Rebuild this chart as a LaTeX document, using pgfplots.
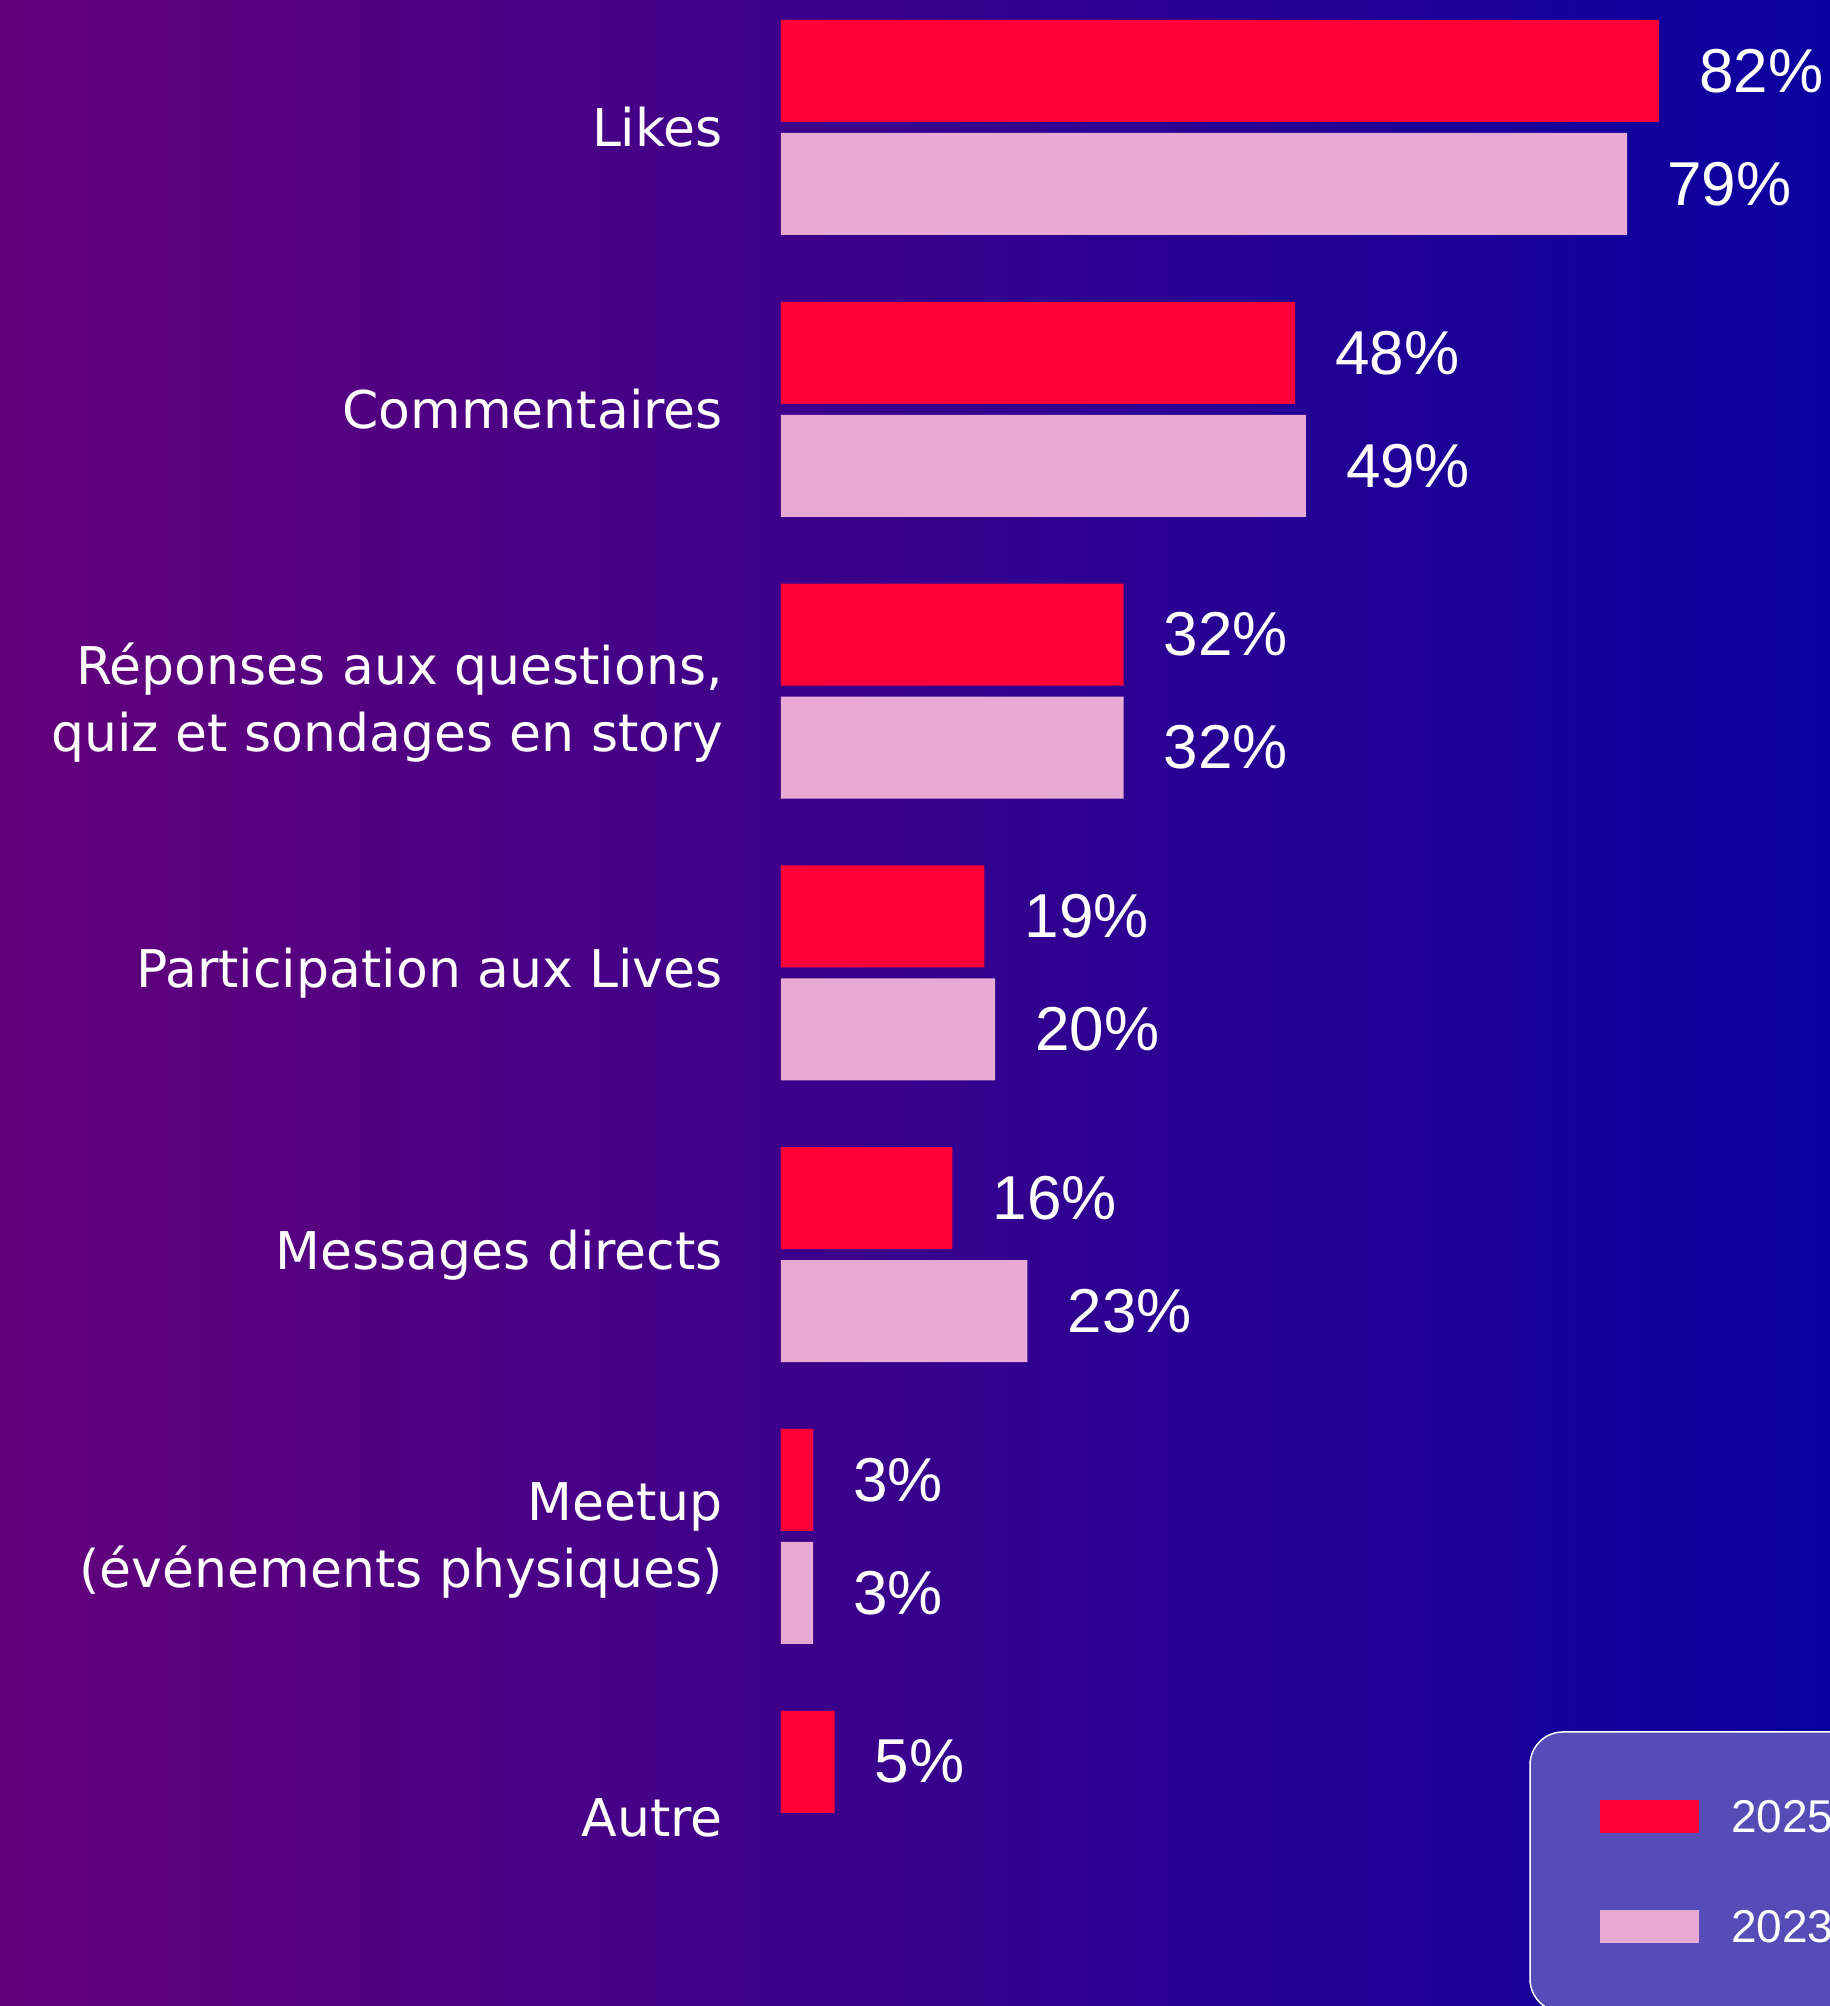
\documentclass[border=0pt]{standalone}
\usepackage{fontspec}
\setmainfont{Liberation Sans}
\newfontfamily\labelfont{DejaVu Sans}
\usepackage{pgfplots}
\pgfplotsset{compat=1.18}
\definecolor{bgL}{RGB}{100,0,122}
\definecolor{bgR}{RGB}{10,0,160}
\definecolor{red25}{RGB}{255,0,56}
\definecolor{pink23}{RGB}{232,170,212}
\definecolor{legfill}{RGB}{85,76,184}
\begin{document}
\begin{tikzpicture}[x=1pt,y=1pt]
\useasboundingbox (0,0) rectangle (1830,2006);
\clip (0,0) rectangle (1830,2006);
\shade[left color=bgL, right color=bgR] (0,0) rectangle (1830,2006);
\draw[white, line width=1.5pt, fill=legfill, rounded corners=33pt] (1530,-6) rectangle (1900,274);
\begin{axis}[
  at={(781pt,1003pt)}, anchor=west,
  scale only axis, width=1049pt, height=2006pt,
  xmin=0, xmax=97.95, ymin=-0.4524, ymax=6.6663, y dir=reverse,
  xbar, bar width=0.362,
  axis line style={draw=none},
  xtick=\empty, ytick={0,1,2.041,3,4,5.015,6},
  yticklabels={Likes, Commentaires, {Réponses aux questions,\\quiz et sondages en story}, Participation aux Lives, Messages directs, {Meetup\\(événements physiques)}, Autre},
  major tick length=0pt,
  yticklabel style={align=right, font=\labelfont\fontsize{52}{67}\selectfont, text=white, inner sep=0pt, xshift=-58pt},
  nodes near coords={\pgfmathprintnumber[assume math mode=true]{\pgfplotspointmeta}\%},
  every node near coord/.append style={anchor=west, inner sep=0pt, xshift=40pt, text=white, font=\fontsize{62}{62}\selectfont},
  clip=false,
  legend style={at={(axis description cs:0.7807,0.1027)}, anchor=north west, draw=none, fill=none, inner sep=0pt, text=white, font=\fontsize{46}{46}\selectfont, nodes={inner sep=0pt, text depth=0pt}, row sep=77pt, cells={anchor=west}},
  legend image code/.code={\fill[#1] (0pt,-16.5pt) rectangle (99pt,16.5pt); \path (131pt,0pt);},
]
\addplot[fill=red25, draw=none, bar shift=-0.2005] coordinates {(82,0) (48,1) (32,2) (19,3) (16,4) (3,5) (5,6)};
\addplot[fill=pink23, draw=none, bar shift=0.2005] coordinates {(79,0) (49,1) (32,2) (20,3) (23,4) (3,5)};
\legend{2025,2023}
\end{axis}
\end{tikzpicture}
\end{document}
